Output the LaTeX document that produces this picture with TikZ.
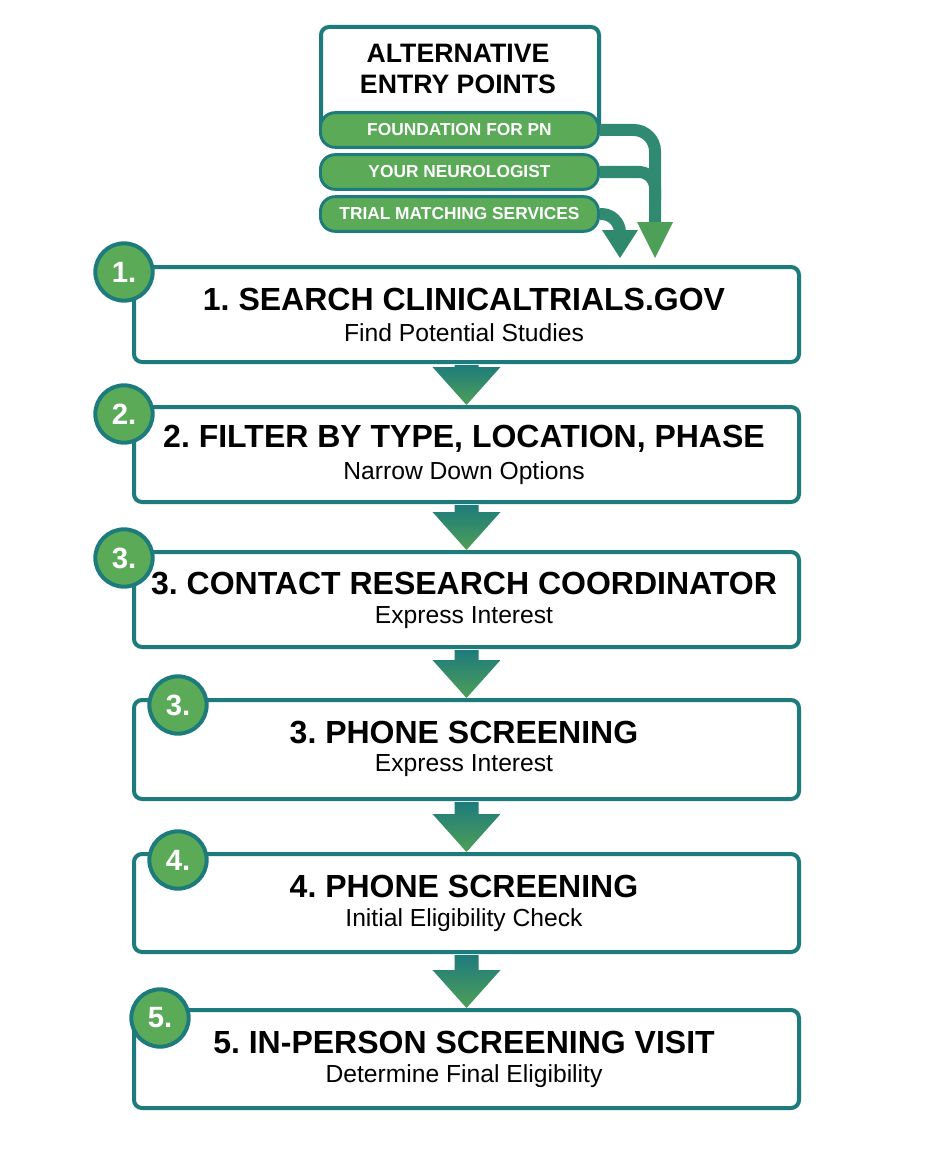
\documentclass[tikz,border=0pt]{standalone}
\usepackage{fontspec}
\setmainfont{Liberation Sans}
\usetikzlibrary{arrows.meta,calc}
\definecolor{teal1}{HTML}{1E7B7C}
\definecolor{green1}{HTML}{5AAA58}
\definecolor{green2}{HTML}{4E9F57}
\begin{document}
\frenchspacing
\begin{tikzpicture}[x=0.75pt,y=-0.75pt,
 boxst/.style={draw=teal1,line width=3pt,rounded corners=6pt,fill=white},
 pill/.style={draw=teal1,line width=2.2pt,rounded corners=11pt,fill=green1,minimum width=208.5pt,minimum height=26pt,text=white,font=\bfseries\fontsize{13}{15}\selectfont,anchor=west},
 num/.style={circle,draw=teal1,line width=3pt,fill=green1,minimum size=43pt,text=white,font=\bfseries\fontsize{22}{24}\selectfont,inner sep=0pt},
 ttl/.style={font=\bfseries\fontsize{24}{28}\selectfont},
 sub/.style={font=\fontsize{18.5}{21}\selectfont}]
\useasboundingbox (0,0) rectangle (928,1152);
\fill[white] (0,0) rectangle (928,1152);
% top box
\node[boxst,minimum width=208.5pt,minimum height=82pt,anchor=north west] (alt) at (319,25) {};
\node[font=\bfseries\fontsize{20}{23}\selectfont,align=center] (altt) at (458,69) {ALTERNATIVE\\ENTRY POINTS};
\node[pill] (p1) at (319,130) {FOUNDATION FOR PN};
\node[pill] (p2) at (319,172) {YOUR NEUROLOGIST};
\node[pill] (p3) at (319,214) {TRIAL MATCHING SERVICES};
\coordinate (t1) at (655,258);
\coordinate (t2) at (620,258);
\draw[teal1!70!green1,line width=9pt,rounded corners=16pt] (p1.east) -- (655,130) -- (655,222);
\draw[teal1!70!green1,line width=9pt,rounded corners=12pt] (p2.east) -- (655,172) -- (655,200);
\draw[teal1!70!green1,line width=9pt,rounded corners=14pt] (p3.east) -- (620,214) -- (620,232);
\fill[green2] (637,222) -- (673,222) -- (t1) -- cycle;
\fill[teal1!60!green2] (602,230) -- (638,230) -- (t2) -- cycle;
% steps
\foreach \n/\y/\h/\cx/\cy/\lab/\t/\s in {
 s1/265/95/124/272/1./1. SEARCH CLINICALTRIALS.GOV/Find Potential Studies,
 s2/405/95/124/414/2./2. FILTER BY TYPE{,} LOCATION{,} PHASE/Narrow Down Options,
 s3/550/95/124/558/3./3. CONTACT RESEARCH COORDINATOR/Express Interest,
 s4/698/99/178/705/3./3. PHONE SCREENING/Express Interest,
 s5/852/98/178/860/4./4. PHONE SCREENING/Initial Eligibility Check,
 s6/1008/98/160/1018/5./5. IN-PERSON SCREENING VISIT/Determine Final Eligibility}{
 \node[boxst,minimum width=498.75pt,minimum height=\h*0.75pt,anchor=north west] (\n) at (132,\y) {};
 \node[ttl] (\n t) at (464,\y+34) {\t};
 \node[sub] (\n s) at (464,\y+68) {\s};
 \node[num] (\n c) at (\cx,\cy) {\lab};
}
% arrows between steps
\foreach \a/\b in {s1/s2,s2/s3,s3/s4,s4/s5,s5/s6}{
 \path (\a.south) ++(0,1) coordinate (\a o);
 \path (\b.north) coordinate (\b i);
 \shade[top color=teal1,bottom color=green2]
  ($(\a o)+(-12,0)$) -- ($(\a o)+(12,0)$) -- ($(\b i)+(12,-38)$) -- ($(\b i)+(34,-38)$) -- (\b i) -- ($(\b i)+(-34,-38)$) -- ($(\b i)+(-12,-38)$) -- cycle;
}
\end{tikzpicture}
\end{document}
